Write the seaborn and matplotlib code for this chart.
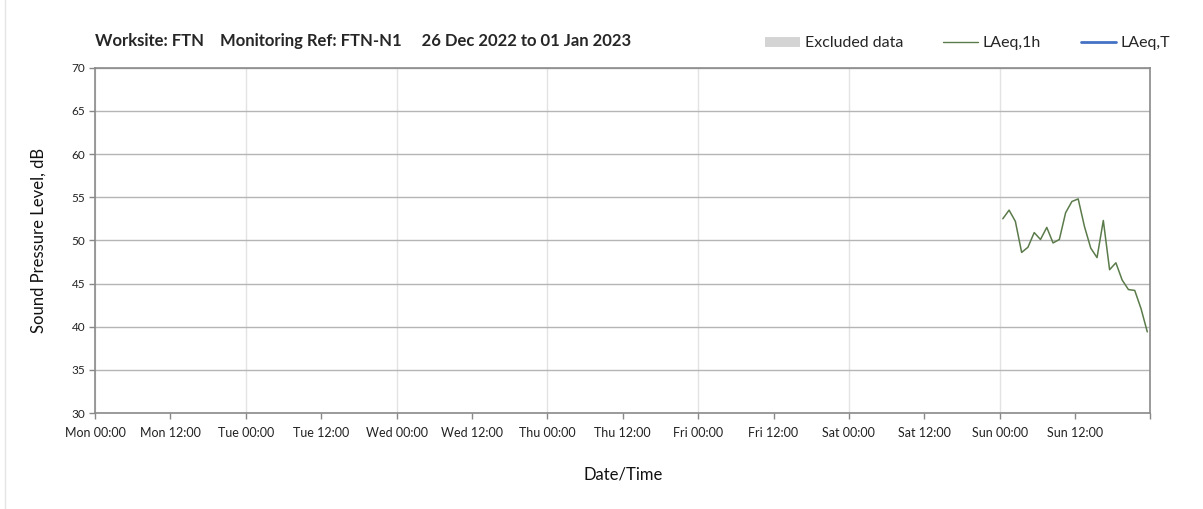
# noise monitoring chart - FTN-N1, one week

import pandas as pd
import numpy as np
import seaborn as sns
import matplotlib.pyplot as plt
import matplotlib.dates as mdates
from matplotlib.ticker import FuncFormatter
from matplotlib.patches import Patch
from matplotlib.lines import Line2D

# Data
week_start = "2022-12-26 00:00"
week_end = "2023-01-02 00:00"
laeq_1h_times = ["2023-01-01 00:30", "2023-01-01 01:30", "2023-01-01 02:30", "2023-01-01 03:30",
                 "2023-01-01 04:30", "2023-01-01 05:30", "2023-01-01 06:30", "2023-01-01 07:30",
                 "2023-01-01 08:30", "2023-01-01 09:30", "2023-01-01 10:30", "2023-01-01 11:30",
                 "2023-01-01 12:30", "2023-01-01 13:30", "2023-01-01 14:30", "2023-01-01 15:30",
                 "2023-01-01 16:30", "2023-01-01 17:30", "2023-01-01 18:30", "2023-01-01 19:30",
                 "2023-01-01 20:30", "2023-01-01 21:30", "2023-01-01 22:30", "2023-01-01 23:30"]
laeq_1h_values = [52.5, 53.5, 52.2, 48.6, 49.2, 50.9, 50.1, 51.5,
                  49.7, 50.1, 53.2, 54.5, 54.8, 51.6, 49.1, 48.0,
                  52.3, 46.6, 47.4, 45.4, 44.3, 44.2, 42.1, 39.4]

title_text = "Worksite: FTN    Monitoring Ref: FTN-N1     26 Dec 2022 to 01 Jan 2023"
y_label = "Sound Pressure Level, dB"
x_label = "Date/Time"
legend_labels = ["Excluded data", "LAeq,1h", "LAeq,T"]

df = pd.DataFrame({"time": pd.to_datetime(laeq_1h_times), "level": laeq_1h_values})

sns.set_style("white")
plt.rcParams['font.family'] = ['Lato', 'DejaVu Sans']

fig = plt.figure(figsize=(12.03, 5.09), dpi=100)
ax = fig.add_axes([0.079, 0.1886, 0.8773, 0.6784])

sns.lineplot(data=df, x="time", y="level", color="#5b7b4b", linewidth=1.1, ax=ax)

# Axes ranges and ticks
ax.set_xlim(pd.Timestamp(week_start), pd.Timestamp(week_end))
ax.set_ylim(30, 70)
ax.set_yticks(np.arange(30, 71, 5))

end_num = mdates.date2num(pd.Timestamp(week_end))

def day_label(x, pos):
    # no label at the very end of the week
    if abs(x - end_num) < 1e-6:
        return ""
    return mdates.num2date(x).strftime("%a %H:%M")

ax.xaxis.set_major_locator(mdates.HourLocator(byhour=[0]))
ax.xaxis.set_minor_locator(mdates.HourLocator(byhour=[12]))
ax.xaxis.set_major_formatter(FuncFormatter(day_label))
ax.xaxis.set_minor_formatter(FuncFormatter(day_label))
ax.tick_params(axis="x", which="both", bottom=True, length=4, width=1, color="#888888",
               labelsize=9, labelcolor="#222222", pad=6)
ax.tick_params(axis="y", left=True, length=4, width=1, color="#888888",
               labelsize=8.5, labelcolor="#222222", pad=3)

# Grid
ax.grid(axis="y", color="#b5b5b5", linewidth=1)
ax.grid(axis="x", which="major", color="#e3e3e3", linewidth=1)
ax.set_axisbelow(True)
for s in ax.spines.values():
    s.set_color("#8a8a8a")
    s.set_linewidth(1.2)

ax.set_xlabel(x_label, fontsize=12, labelpad=20, color="#111111")
ax.set_ylabel(y_label, fontsize=12, labelpad=18, color="#111111")

# Title
fig.text(0.079, 0.904, title_text, fontsize=12, fontweight="bold", ha="left", va="bottom")

# Legend
handles = [Patch(facecolor="#d4d4d4", edgecolor="none"),
           Line2D([0], [0], color="#5b7b4b", linewidth=1),
           Line2D([0], [0], color="#4472c4", linewidth=2)]
fig.legend(handles, legend_labels, loc="center right", bbox_to_anchor=(0.985, 0.915),
           ncol=3, frameon=False, fontsize=11.5, handlelength=2.2, handletextpad=0.3,
           columnspacing=2.5, handleheight=0.6)

# faint figure border on the left
fig.add_artist(Line2D([0.004, 0.004], [0, 1], color="#e5e5e5", linewidth=1))

fig.savefig("out.png", dpi=100)
